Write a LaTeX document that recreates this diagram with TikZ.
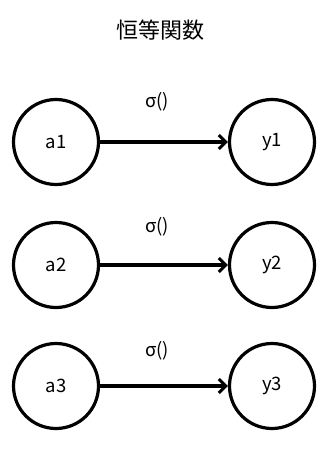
\documentclass[tikz,border=0pt]{standalone}
\usepackage{fontspec}
\setmainfont{Noto Sans CJK JP}
\usetikzlibrary{arrows.meta}
\begin{document}
\begin{tikzpicture}[x=1pt,y=-1pt,
  unit/.style={circle,draw,line width=3.2pt,minimum size=85pt,inner sep=0pt,font=\fontsize{18.5}{20}\selectfont},
  conn/.style={line width=3.2pt,-{Straight Barb[length=7pt,width=14pt,line width=3pt]}},
  lbl/.style={font=\fontsize{18.5}{20}\selectfont}]
\useasboundingbox (0,0) rectangle (330,449);
\node[font=\fontsize{22}{24}\selectfont] (title) at (160,30) {恒等関数};
\foreach \i/\y/\ly in {1/142/102, 2/265/227, 3/386/351} {
  \node[unit] (a\i) at (56,\y) {a\i};
  \node[unit] (y\i) at (272,\y) {y\i};
  \node[lbl] (s\i) at (157,\ly) {σ()};
  \draw[conn] (a\i) -- (y\i);
}
\end{tikzpicture}
\end{document}
